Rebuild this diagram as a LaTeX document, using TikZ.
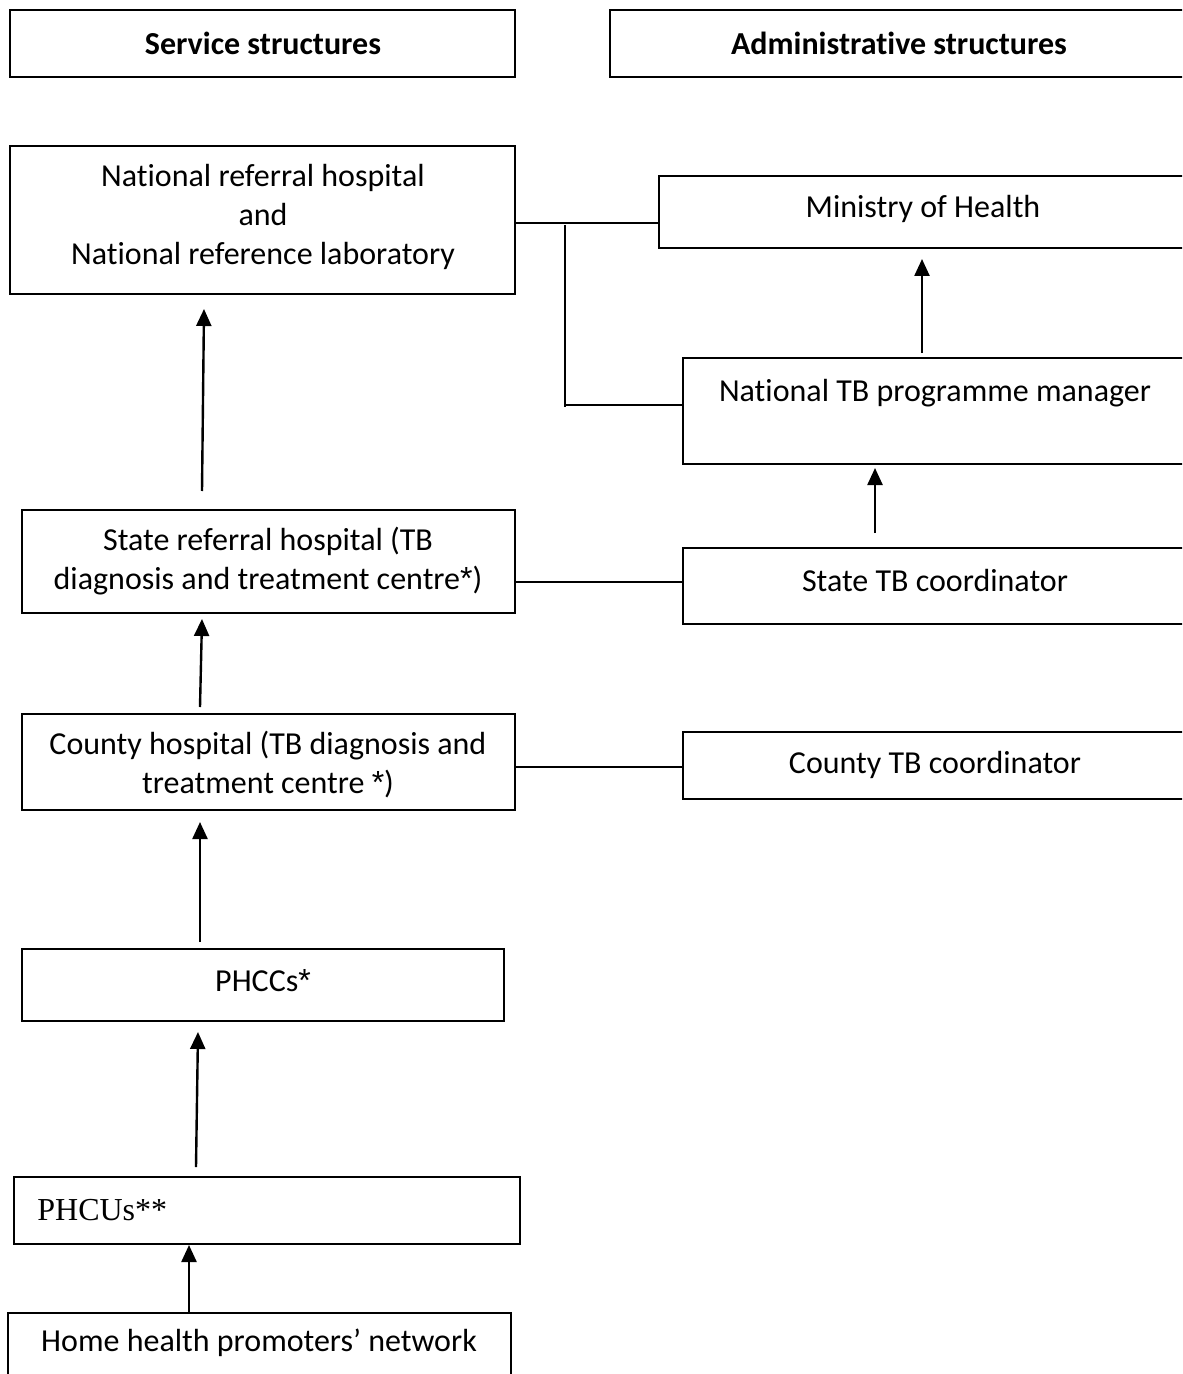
\documentclass[tikz,border=0pt]{standalone}
\usepackage{fontspec}
\setmainfont[Ligatures=NoCommon]{Carlito}
\newfontfamily\timesfont{Liberation Serif}
\newfontfamily\starfont{Liberation Sans}
\usetikzlibrary{fit,calc,arrows.meta}

% high-set asterisk used for the footnote marks
\newcommand{\hstar}{{\starfont *}}

\tikzset{
  box/.style={draw=black, line width=1pt, inner sep=0pt, fill=white},
  txt/.style={inner sep=0pt, align=center, font=\fontsize{16}{19.5}\selectfont},
  link/.style={draw=black, line width=0.75pt},
  arr/.style={draw=black, line width=1.2pt, -{Triangle[width=7.5pt,length=8.5pt]}}
}

\begin{document}
\begin{tikzpicture}[x=0.5pt, y=-0.5pt]
  \clip (0,0) rectangle (1182,1374);
  \fill[white] (0,0) rectangle (1182,1374);

  % column headers
  \node[box, fit={(10,10) (515,77)}] (hdrL) {};
  \node[txt, font=\fontsize{16}{19.5}\selectfont\bfseries] (hdrLt) at (263,43) {Service structures};
  \node[box, fit={(610,10) (1188,77)}] (hdrR) {};
  \node[txt, font=\fontsize{16}{19.5}\selectfont\bfseries] (hdrRt) at (899,43) {Administrative structures};

  % service structures
  \node[box, fit={(10,146) (515,294)}] (nrh) {};
  \node[txt] (nrht) at (263,217) {National referral hospital\\and\\National reference laboratory};
  \node[box, fit={(22,510) (515,613)}] (srh) {};
  \node[txt] (srht) at (268,561) {State referral hospital (TB\\diagnosis and treatment centre\hstar)};
  \node[box, fit={(22,714) (515,810)}] (ch) {};
  \node[txt] (cht) at (268,765) {County hospital (TB diagnosis and\\treatment centre \hstar)};
  \node[box, fit={(22,949) (504,1021)}] (phcc) {};
  \node[txt] (phcct) at (263,981) {PHCCs\hstar};
  \node[box, fit={(14,1177) (520,1244)}] (phcu) {};
  \node[txt, anchor=west, font=\fontsize{16}{19.5}\timesfont] (phcut) at (37,1210) {PHCUs**};
  \node[box, fit={(8,1313) (511,1390)}] (home) {};
  \node[txt] (homet) at (259,1343) {Home health promoters’ network};

  % administrative structures
  \node[box, fit={(659,176) (1188,248)}] (moh) {};
  \node[txt] (moht) at (923,209) {Ministry of Health};
  \node[box, fit={(683,358) (1188,464)}] (ntb) {};
  \node[txt] (ntbt) at (935,393) {National TB programme manager};
  \node[box, fit={(683,548) (1188,624)}] (stb) {};
  \node[txt] (stbt) at (935,581) {State TB coordinator};
  \node[box, fit={(683,732) (1188,799)}] (ctb) {};
  \node[txt] (ctbt) at (935,765) {County TB coordinator};

  % horizontal links between the two columns
  \coordinate (j1) at (565,223);
  \coordinate (j2) at (565,405);
  \coordinate (j3) at (600,582);
  \coordinate (j4) at (600,767);
  \draw[link] (j1 -| nrh.east) -- (j1 -| moh.west);
  \draw[link] ($(j1)+(0,2)$) -- ($(j2)+(0,2)$);
  \draw[link] (j2) -- (j2 -| ntb.west);
  \draw[link] (j3 -| srh.east) -- (j3 -| stb.west);
  \draw[link] (j4 -| ch.east) -- (j4 -| ctb.west);

  % reporting arrows
  \draw[arr] ($(ntb.north west)+(240,-4)$) -- ($(moh.south west)+(264,10)$);
  \draw[arr] ($(stb.north west)+(193,-14)$) -- ($(ntb.south west)+(193,3)$);
  \draw[arr] ($(srh.north west)+(181,-18)$) -- ($(nrh.south west)+(195,14)$);
  \draw[arr] ($(ch.north west)+(179,-6)$) -- ($(srh.south west)+(181,5)$);
  \draw[arr] ($(phcc.north west)+(179,-6)$) -- ($(ch.south west)+(179,11)$);
  \draw[arr] ($(phcu.north west)+(183,-9)$) -- ($(phcc.south west)+(177,10)$);
  \draw[arr] ($(home.north west)+(182,0)$) -- ($(phcu.south west)+(176,0)$);
\end{tikzpicture}
\end{document}
